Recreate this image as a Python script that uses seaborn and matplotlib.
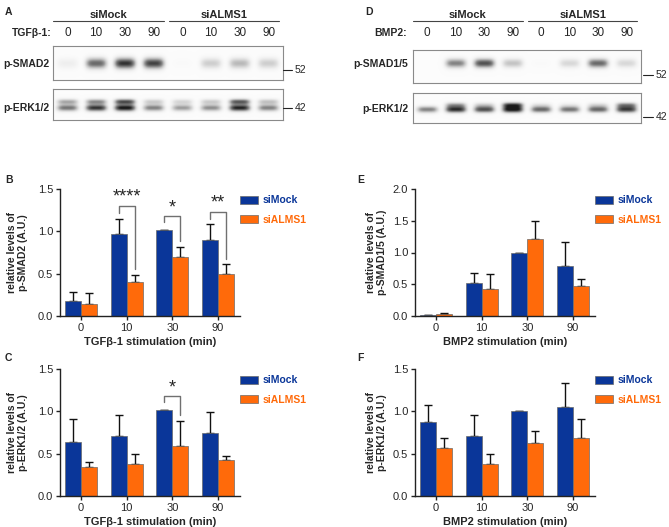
import numpy as np
import pandas as pd
import matplotlib
matplotlib.use('Agg')
import matplotlib.pyplot as plt
import seaborn as sns
from matplotlib.transforms import blended_transform_factory

sns.set_style('ticks')
plt.rcParams['font.family'] = ['Liberation Sans', 'DejaVu Sans']

# --- data ---
times = ['0', '10', '30', '90']
groups = ['siMock', 'siALMS1']
lanes = times + times

# B: p-SMAD2 / TGFb-1
b_mock = [0.18, 0.965, 1.01, 0.90]
b_mock_err = [0.10, 0.185, 0.0, 0.19]
b_alms = [0.14, 0.40, 0.70, 0.50]
b_alms_err = [0.13, 0.09, 0.11, 0.12]
b_sig_idx = [1, 2, 3]
b_sig_stars = ['****', '*', '**']
b_sig_top = [1.30, 1.18, 1.23]
b_sig_left = [1.22, 1.11, 1.14]
b_sig_right = [0.55, 0.88, 0.67]

# C: p-ERK1/2 / TGFb-1
c_mock = [0.64, 0.71, 1.02, 0.75]
c_mock_err = [0.27, 0.25, 0.0, 0.24]
c_alms = [0.34, 0.38, 0.59, 0.43]
c_alms_err = [0.06, 0.12, 0.30, 0.04]
c_sig_idx = [2]
c_sig_stars = ['*']
c_sig_top = [1.18]
c_sig_left = [1.105]
c_sig_right = [0.955]

# E: p-SMAD1/5 / BMP2
e_mock = [0.01, 0.52, 1.0, 0.79]
e_mock_err = [0.005, 0.16, 0.0, 0.37]
e_alms = [0.025, 0.43, 1.205, 0.47]
e_alms_err = [0.02, 0.23, 0.295, 0.12]

# F: p-ERK1/2 / BMP2
f_mock = [0.87, 0.71, 1.0, 1.05]
f_mock_err = [0.21, 0.245, 0.0, 0.28]
f_alms = [0.57, 0.38, 0.63, 0.69]
f_alms_err = [0.12, 0.12, 0.14, 0.22]

# blot band intensities per lane (0 = none, 1 = saturated)
a_smad2 = [0.12, 0.7, 0.9, 0.85, 0.02, 0.3, 0.4, 0.3]
a_erk_up = [0.45, 0.55, 0.8, 0.3, 0.25, 0.3, 0.75, 0.35]
a_erk_low = [0.65, 0.9, 1.0, 0.6, 0.5, 0.55, 0.95, 0.6]
d_smad15 = [0.0, 0.6, 0.8, 0.35, 0.02, 0.25, 0.7, 0.25]
d_erk_up = [0.0, 0.45, 0.25, 0.8, 0.15, 0.1, 0.2, 0.55]
d_erk_low = [0.6, 0.9, 0.8, 1.0, 0.7, 0.65, 0.7, 0.85]

blue = '#0a3699'
orange = '#ff6a0a'

W, H = 669, 527
fig = plt.figure(figsize=(W / 100, H / 100), dpi=100)


def px_axes(l, t, r, b):
    return fig.add_axes([l / W, 1 - b / H, (r - l) / W, (b - t) / H])


def ftext(x, y, s, **kw):
    fig.text(x / W, 1 - y / H, s, **kw)


def blot(ax, bands):
    # bands: list of (intensities, y centre as fraction of box height, thickness)
    xs = np.linspace(-0.5, 7.5, 400)
    ys = np.linspace(0, 1, 60)
    X, Y = np.meshgrid(xs, ys)
    img = np.full(X.shape, 0.03)
    for vals, yc, sy in bands:
        for i, v in enumerate(vals):
            img += v * np.exp(-((X - i) / 0.37) ** 4) * np.exp(-((Y - yc) / sy) ** 2)
    ax.imshow(np.clip(img, 0, 1), cmap='Greys', vmin=0, vmax=1.1, aspect='auto',
              extent=(-0.5, 7.5, 1, 0), interpolation='bilinear')
    ax.set_xticks([])
    ax.set_yticks([])
    for s in ax.spines.values():
        s.set_color('#8a8a8a')
        s.set_linewidth(0.8)


def blot_header(ax, y_lane, y_group, y_line):
    tr = blended_transform_factory(ax.transData, fig.transFigure)
    for i, lab in enumerate(lanes):
        ax.text(i, 1 - y_lane / H, lab, transform=tr, ha='center', va='center', fontsize=8.5)
    for (x0, x1), g in zip([(-0.5, 3.35), (3.55, 7.35)], groups):
        ax.plot([x0, x1], [1 - y_line / H] * 2, transform=tr, color='#444444', lw=0.8, clip_on=False)
        ax.text((x0 + x1) / 2, 1 - y_group / H, g, transform=tr, ha='center', va='center',
                fontsize=8, fontweight='bold')


# --- western blots ---
axA1 = px_axes(53, 46, 283, 80)
blot(axA1, [(a_smad2, 0.51, 0.16)])
axA2 = px_axes(53, 89, 283, 120)
blot(axA2, [(a_erk_up, 0.41, 0.09), (a_erk_low, 0.61, 0.11)])
blot_header(axA1, 33, 15, 21)

axD1 = px_axes(413, 50, 641, 83)
blot(axD1, [(d_smad15, 0.40, 0.14)])
axD2 = px_axes(413, 93, 641, 123)
blot(axD2, [(d_erk_up, 0.40, 0.09), (d_erk_low, 0.55, 0.11)])
blot_header(axD1, 33, 15, 21)

bold = dict(fontsize=7.5, fontweight='bold', va='center')
ftext(52, 33, 'TGFβ-1:', ha='right', **bold)
ftext(407, 33, 'BMP2:', ha='right', **bold)
ftext(3, 64, 'p-SMAD2', ha='left', **bold)
ftext(3, 108, 'p-ERK1/2', ha='left', **bold)
ftext(408, 64, 'p-SMAD1/5', ha='right', **bold)
ftext(408, 109, 'p-ERK1/2', ha='right', **bold)

for x0, x1, y, lab in [(283, 292, 70, '52'), (283, 292, 108, '42'),
                        (643, 653, 75, '52'), (643, 653, 117, '42')]:
    fig.add_artist(plt.Line2D([x0 / W, x1 / W], [1 - y / H] * 2, color='#222222', lw=0.8))
    ftext(x1 + 3, y, lab, ha='left', va='center', fontsize=7.5)

for x, y, lab in [(5, 12, 'A'), (365, 12, 'D'), (5, 180, 'B'), (5, 358, 'C'),
                  (357, 180, 'E'), (357, 358, 'F')]:
    ftext(x, y, lab, ha='left', va='center', fontsize=7.5, fontweight='bold')


# --- bar charts ---
def bar_panel(ax, mock, mock_err, alms, alms_err, ymax, xlabel, ylabel, ylab_x,
              sig=None):
    df = pd.DataFrame({'time': times * 2, 'value': mock + alms,
                       'group': [groups[0]] * 4 + [groups[1]] * 4})
    sns.barplot(data=df, x='time', y='value', hue='group', hue_order=groups,
                palette=[blue, orange], saturation=1, width=0.7, gap=0, errorbar=None,
                edgecolor='#6a6a6a', linewidth=0.5, ax=ax)
    centers = []
    for cont, err in zip(ax.containers, [mock_err, alms_err]):
        xs = [p.get_x() + p.get_width() / 2 for p in cont]
        ys = [p.get_height() for p in cont]
        centers.append(xs)
        ax.errorbar(xs, ys, yerr=[np.zeros(len(err)), err], fmt='none', ecolor='#111111',
                    elinewidth=1, capsize=3, capthick=1, zorder=0.5)
    if sig is not None:
        for i, stars, top, lb, rb in zip(*sig):
            x0, x1 = centers[0][i], centers[1][i]
            ax.plot([x0, x0, x1, x1], [lb, top, top, rb], color='#707070', lw=1, clip_on=False)
            ax.text((x0 + x1) / 2, top, stars, ha='center', va='bottom', fontsize=13)
    ax.set_xlim(-0.46, 3.48)
    ax.set_ylim(0, ymax)
    ax.set_yticks(np.arange(0, ymax + 0.01, 0.5))
    ax.set_yticklabels([f'{v:.1f}' for v in np.arange(0, ymax + 0.01, 0.5)])
    ax.set_xlabel(xlabel, fontsize=8, fontweight='bold', labelpad=3)
    ax.set_ylabel(ylabel, fontsize=7.5, fontweight='bold', linespacing=1.1)
    ax.yaxis.set_label_coords(ylab_x, 0.5)
    ax.tick_params(labelsize=8, length=3, width=1, color='#222222', pad=2)
    for s in ['left', 'bottom']:
        ax.spines[s].set_linewidth(1)
        ax.spines[s].set_color('#222222')
    sns.despine(ax=ax)
    handles, labels = ax.get_legend_handles_labels()
    ax.legend(handles, labels, loc='upper left', bbox_to_anchor=(1.0, 0.95),
              frameon=False, prop={'weight': 'bold', 'size': 7.5},
              labelcolor=[blue, orange], handlelength=1.7, handleheight=0.8,
              handletextpad=0.5, labelspacing=0.9, borderpad=0, borderaxespad=0)


axB = px_axes(60, 189, 240, 316)
bar_panel(axB, b_mock, b_mock_err, b_alms, b_alms_err, 1.5, 'TGFβ-1 stimulation (min)',
          'relative levels of\np-SMAD2 (A.U.)', -0.18,
          (b_sig_idx, b_sig_stars, b_sig_top, b_sig_left, b_sig_right))
axC = px_axes(60, 369, 240, 496)
bar_panel(axC, c_mock, c_mock_err, c_alms, c_alms_err, 1.5, 'TGFβ-1 stimulation (min)',
          'relative levels of\np-ERK1/2 (A.U.)', -0.18,
          (c_sig_idx, c_sig_stars, c_sig_top, c_sig_left, c_sig_right))
axE = px_axes(415, 189, 595, 316)
bar_panel(axE, e_mock, e_mock_err, e_alms, e_alms_err, 2.0, 'BMP2 stimulation (min)',
          'relative levels of\np-SMAD1/5 (A.U.)', -0.155)
axF = px_axes(415, 369, 595, 496)
bar_panel(axF, f_mock, f_mock_err, f_alms, f_alms_err, 1.5, 'BMP2 stimulation (min)',
          'relative levels of\np-ERK1/2 (A.U.)', -0.155)

fig.savefig('out.png', dpi=100)
